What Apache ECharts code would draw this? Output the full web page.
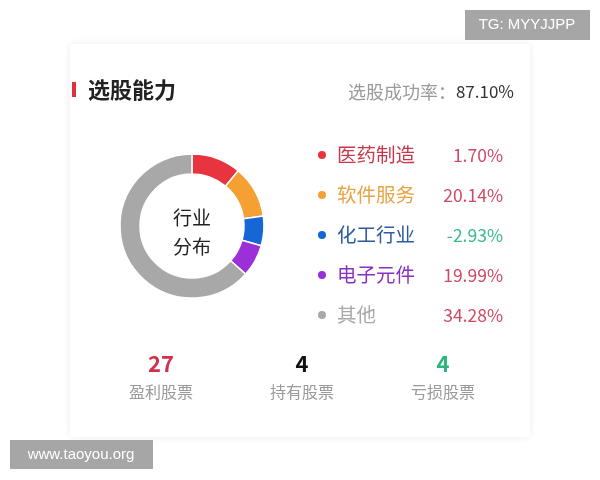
<!DOCTYPE html>
<html><head><meta charset="utf-8">
<script src="https://cdn.jsdelivr.net/npm/echarts@6/dist/echarts.min.js"></script>
<style>html,body{margin:0;padding:0;background:#fff}#c{width:600px;height:480px}</style>
</head><body><div id="c"></div>
<script>
const categories = ['医药制造', '软件服务', '化工行业', '电子元件', '其他'];
const sliceValues = [40, 42, 24, 26, 228];
const returnLabels = ['1.70%', '20.14%', '-2.93%', '19.99%', '34.28%'];
const sliceColors = ['#e8343f', '#f5a033', '#1766d6', '#9c30d8', '#a8a8a8'];
const nameColors = ['#c8384c', '#e8a448', '#2f5b9e', '#8a30c0', '#a8a8a8'];
const statValues = ['27', '4', '4'];
const statLabels = ['盈利股票', '持有股票', '亏损股票'];
const statColors = ['#d2314b', '#111111', '#2db37c'];
const titleText = '选股能力';
const rateLabel = '选股成功率：';
const rateValue = '87.10%';
const centerText = ['行业', '分布'];

const FONT = '"Noto Sans CJK SC", "Noto Sans", sans-serif';
const chart = echarts.init(document.getElementById('c'), null, {renderer: 'canvas'});

const rich = {
  pos: {color: '#cf4a62', fontSize: 17.5, width: 56, align: 'right', fontFamily: FONT},
  neg: {color: '#3bb88e', fontSize: 17.5, width: 56, align: 'right', fontFamily: FONT}
};
categories.forEach((c, i) => {
  rich['n' + i] = {color: nameColors[i], fontSize: 19.5, width: 110, padding: [0, 0, 0, 5], fontFamily: FONT};
});

const statX = [161, 302, 443];
const graphics = [
  {type: 'rect', shape: {x: 70, y: 44, width: 460, height: 393, r: 4},
   style: {fill: '#fff', shadowBlur: 8, shadowColor: 'rgba(0,0,0,0.08)'}, z: -10},
  {type: 'rect', shape: {x: 72, y: 82, width: 4, height: 15}, style: {fill: '#e0303f'}},
  {type: 'text', x: 88, y: 90, style: {text: titleText, font: 'bold 22px ' + FONT, fill: '#222', verticalAlign: 'middle'}},
  {type: 'text', x: 514, y: 92, style: {
    text: '{a|' + rateLabel + '}{b|' + rateValue + '}', align: 'right', verticalAlign: 'middle',
    rich: {a: {fontSize: 18, fill: '#9a9a9a', fontFamily: FONT}, b: {fontSize: 17, fill: '#333', fontFamily: FONT}}}},
  {type: 'text', x: 192, y: 218, style: {text: centerText[0], font: '19px ' + FONT, fill: '#222', align: 'center', verticalAlign: 'middle'}},
  {type: 'text', x: 192, y: 247, style: {text: centerText[1], font: '19px ' + FONT, fill: '#222', align: 'center', verticalAlign: 'middle'}},
  {type: 'rect', shape: {x: 465, y: 10, width: 125, height: 30}, style: {fill: '#a6a6a6'}},
  {type: 'text', x: 527, y: 25, style: {text: 'TG: MYYJJPP', font: '15px "Liberation Sans", Arial, sans-serif', fill: '#fff', align: 'center', verticalAlign: 'middle'}},
  {type: 'rect', shape: {x: 10, y: 440, width: 143, height: 29}, style: {fill: '#a6a6a6'}},
  {type: 'text', x: 81, y: 455, style: {text: 'www.taoyou.org', font: '15px "Liberation Sans", Arial, sans-serif', fill: '#fff', align: 'center', verticalAlign: 'middle'}}
];
statValues.forEach((v, i) => {
  graphics.push({type: 'text', x: statX[i], y: 364, style: {text: v, font: 'bold 22px ' + FONT, fill: statColors[i], align: 'center', verticalAlign: 'middle'}});
  graphics.push({type: 'text', x: statX[i], y: 392, style: {text: statLabels[i], font: '16px ' + FONT, fill: '#9a9a9a', align: 'center', verticalAlign: 'middle'}});
});

chart.setOption({
  animation: false,
  backgroundColor: '#fff',
  color: sliceColors,
  legend: {
    orient: 'vertical', left: 316, top: 143, padding: 0, icon: 'circle', itemWidth: 10, itemHeight: 10,
    itemGap: 16, selectedMode: false,
    data: categories.map((c, i) => ({name: c})),
    formatter: function (name) {
      const i = categories.indexOf(name);
      const r = returnLabels[i];
      return '{n' + i + '|' + name + '}{' + (r.charAt(0) === '-' ? 'neg' : 'pos') + '|' + r + '}';
    },
    textStyle: {rich: rich, lineHeight: 24}
  },
  series: [{
    type: 'pie', center: [192, 226], radius: [52, 72], startAngle: 90, clockwise: true,
    label: {show: false}, labelLine: {show: false}, silent: true,
    itemStyle: {borderColor: '#fff', borderWidth: 1.5},
    data: categories.map((c, i) => ({name: c, value: sliceValues[i]}))
  }],
  graphic: graphics
});
</script></body></html>
